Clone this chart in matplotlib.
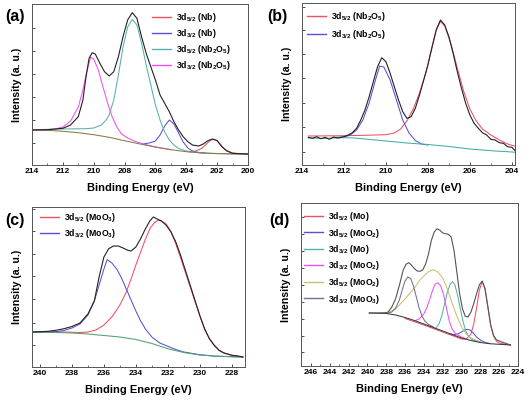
import matplotlib
matplotlib.use('Agg')
import matplotlib.pyplot as plt
from matplotlib.ticker import MultipleLocator, NullFormatter

plt.rcParams['font.family'] = 'Liberation Sans'
plt.rcParams['font.weight'] = 'bold'
plt.rcParams['mathtext.fontset'] = 'custom'
plt.rcParams['mathtext.rm'] = 'Liberation Sans:bold'
plt.rcParams['mathtext.bf'] = 'Liberation Sans:bold'
plt.rcParams['mathtext.default'] = 'rm'

# ---------------- (a) Nb 3d ----------------
a_data_x = [214, 213, 212, 211.5, 211, 210.7, 210.5, 210.3, 210.1, 209.9, 209.6, 209.3, 209.0, 208.7,
            208.4, 208.1, 207.8, 207.5, 207.2, 206.9, 206.6, 206.3, 206.0, 205.7, 205.4, 205.1, 204.8,
            204.5, 204.2, 203.9, 203.6, 203.2, 202.9, 202.6, 202.3, 202.0, 201.7, 201.4, 201.0, 200.5, 200.0]
a_data_y = [35, 35.3, 36.7, 40, 48.3, 65, 88, 106.7, 112.3, 111, 101.7, 93.3, 89, 93.3,
            108.3, 128.3, 145, 152.3, 146.7, 128.3, 111.7, 98.3, 85, 70, 61.7, 53.3, 43.3,
            35, 28.3, 23.3, 20, 19, 21, 24.3, 26, 24.3, 18.3, 14.3, 11.7, 11.3, 11]
a_bg_x = [214, 213, 212, 211, 210, 209, 208, 207, 206, 205, 204, 203, 202, 201, 200]
a_bg_y = [35, 34.7, 33.7, 32.3, 30.3, 27.7, 24.3, 21, 18, 15.3, 13.3, 12, 11.3, 11, 11]
a_nb52_x = [203.8, 203.4, 203.0, 202.7, 202.4, 202.2, 202.0, 201.7, 201.4, 201.0, 200.5, 200.0]
a_nb52_y = [13, 14, 16.5, 21, 25, 25.7, 24.5, 19, 14.5, 12, 11.3, 11]
a_nb32_x = [206.8, 206.4, 206.0, 205.7, 205.4, 205.1, 204.8, 204.5, 204.2, 203.9, 203.6, 203.2, 202.8]
a_nb32_y = [21, 22, 24, 30, 39, 45, 41, 32, 23, 17, 14, 12.5, 12]
a_ox52_x = [214, 212, 210.5, 210, 209.5, 209.2, 209.0, 208.7, 208.4, 208.1, 207.8, 207.5, 207.2,
            206.9, 206.6, 206.3, 206.0, 205.7, 205.4, 205.1, 204.8, 204.5, 204, 203, 202, 200]
a_ox52_y = [35.3, 36, 36.3, 37, 40, 45, 50, 65, 90, 118, 138, 145.7, 140,
            122, 100, 80, 60, 45, 33, 25, 20, 16.5, 14, 12.2, 11.5, 11]
a_ox32_x = [214, 213, 212.5, 212, 211.5, 211, 210.7, 210.5, 210.2, 210.0, 209.7, 209.4, 209.1,
            208.8, 208.5, 208.2, 207.8, 207.3, 206.8, 206, 205]
a_ox32_y = [35, 35.3, 36, 38, 44, 58, 75, 90, 108, 106, 95, 78, 62,
            48, 38, 31, 27, 23.5, 21, 18, 15.3]

# ---------------- (b) Nb2O5 ----------------
b_data_x = [213.7, 213.5, 213.3, 213.1, 212.9, 212.7, 212.5, 212.3, 212.0, 211.8, 211.6, 211.4, 211.2,
            211.0, 210.8, 210.6, 210.4, 210.2, 210.0, 209.8, 209.6, 209.4, 209.2, 209.0, 208.8, 208.6,
            208.4, 208.2, 208.0, 207.8, 207.6, 207.4, 207.2, 207.0, 206.8, 206.6, 206.4, 206.2, 206.0,
            205.8, 205.6, 205.4, 205.2, 205.0, 204.8, 204.6, 204.4, 204.2, 204.0, 203.8]
b_data_y = [27.7, 26.7, 28.3, 26.3, 27.7, 25.7, 28, 27, 28.3, 30, 32.3, 36.7, 45,
            55, 68.3, 83.3, 98.3, 107.3, 103.3, 91.7, 78.3, 65, 53.3, 46.7, 48.3, 56.7,
            70, 85, 100, 118.3, 135, 145, 140, 128.3, 111.7, 93.3, 76.7, 61.7, 50,
            41.7, 36.7, 32.3, 30, 25.7, 25, 22.3, 21.7, 18.3, 17.7, 13.3]
b_ox52_x = [213.7, 212, 211, 210, 209.6, 209.3, 209.0, 208.7, 208.4, 208.1, 207.8, 207.6, 207.4,
            207.2, 206.9, 206.6, 206.3, 206.0, 205.7, 205.4, 205.0, 204.6, 204.2, 203.8]
b_ox52_y = [29, 29.3, 29.7, 30.3, 32, 36, 44, 56, 72, 92, 118, 136, 143.5,
            139, 121, 97, 74, 56, 44, 36, 30, 25, 21, 18.5]
b_ox32_x = [212.5, 212, 211.7, 211.4, 211.1, 210.8, 210.5, 210.3, 210.1, 209.8, 209.5, 209.2,
            208.9, 208.6, 208.3, 208.0]
b_ox32_y = [27.5, 28, 30, 35, 45, 62, 85, 99, 98, 85, 65, 45, 32, 24.5, 21, 20]
b_bg_x = [213.7, 213, 212.5, 212, 211.5, 211, 210, 209, 208, 207, 206, 205, 204, 203.8]
b_bg_y = [27, 26.5, 27, 27.3, 27, 26, 24, 22, 20.5, 18.5, 16, 14.3, 13, 12.7]

# ---------------- (c) MoO3 ----------------
c_data_x = [240.4, 239.5, 239.0, 238.5, 238.0, 237.5, 237.0, 236.6, 236.3, 236.0, 235.7, 235.4, 235.1,
            234.8, 234.5, 234.3, 234.0, 233.7, 233.4, 233.1, 232.9, 232.7, 232.4, 232.1, 231.8, 231.5,
            231.2, 230.9, 230.6, 230.3, 230.0, 229.7, 229.4, 229.1, 228.8, 228.5, 228.0, 227.5, 227.3]
c_data_y = [35, 35.7, 36.7, 38.3, 40.5, 44, 53, 66, 90, 110, 118.3, 121, 121,
            119, 116.7, 116, 120, 128.3, 138.3, 146.7, 150, 148.3, 146, 141.7, 135, 125,
            111.7, 96.7, 81.7, 66.7, 51.7, 38.3, 28.3, 21.7, 16.7, 14, 11.7, 10.7, 10]
c_52_x = [240.4, 239, 238, 237.5, 237, 236.5, 236.0, 235.5, 235.0, 234.6, 234.3, 234.0, 233.7,
          233.4, 233.1, 232.8, 232.6, 232.4, 232.1, 231.8, 231.5, 231.2, 230.9, 230.6, 230.3,
          230.0, 229.7, 229.4, 229.1, 228.8, 228.5, 228, 227.3]
c_52_y = [35, 35.2, 34.8, 34.5, 35, 37, 42, 50, 62, 75, 88, 102, 115,
          128, 139, 145, 146.7, 146, 143, 135, 123, 109, 94.5, 80, 65.5,
          51, 38, 28.5, 22, 17, 14.3, 11.8, 10]
c_32_x = [240.4, 239, 238.5, 238, 237.5, 237.0, 236.6, 236.3, 236.0, 235.8, 235.5, 235.2, 234.9,
          234.6, 234.3, 234.0, 233.7, 233.4, 233.0, 232.5, 232.0, 231.5, 231, 230, 229, 227.3]
c_32_y = [35, 35.3, 36.5, 39, 43, 52, 66, 82, 98, 107.3, 104, 98, 89,
          78, 67, 56, 46, 38, 30, 24, 20.7, 17.5, 15, 12.3, 10.8, 10]
c_bg_x = [240.4, 239, 238, 237, 236, 235, 234, 233, 232, 231, 230, 229, 228, 227.3]
c_bg_y = [35, 34.5, 34, 33, 31.5, 30, 27.5, 23.5, 18.3, 14.5, 12, 10.8, 10.3, 10]

# ---------------- (d) Mo / MoO2 / MoO3 ----------------
d_data_x = [239.8, 239, 238, 237.8, 237.4, 237.0, 236.6, 236.2, 235.9, 235.6, 235.3, 235.0, 234.7,
            234.4, 234.1, 233.8, 233.5, 233.2, 232.9, 232.6, 232.3, 232.0, 231.7, 231.4, 231.1,
            230.8, 230.5, 230.2, 229.9, 229.6, 229.3, 229.0, 228.7, 228.4, 228.1, 227.8, 227.5,
            227.2, 226.9, 226.6, 226.3, 226.0, 225.5, 225.0, 224.8]
d_data_y = [53, 53, 53.3, 54, 59, 67.3, 80.7, 95.7, 101.7, 103.3, 100.7, 97.3, 95,
            94.7, 96.3, 102.3, 112.3, 125.7, 134, 137.3, 135.7, 133, 132.3, 131.7, 129,
            115.7, 94, 72.3, 57.3, 49.7, 49, 54, 62.3, 72.3, 81.3, 85, 77.3,
            59, 40.7, 30.7, 26.3, 25, 23.3, 21.7, 21]
d_bg_x = [239.8, 238, 237, 236, 235, 234, 233, 232, 231, 230, 229, 228, 227, 226, 224.8]
d_bg_y = [53, 52.5, 51, 48.5, 45.5, 42, 38.5, 35, 31.5, 28, 25.5, 23.5, 22.3, 21.7, 21]
d_mo52_x = [236, 234, 232, 230, 229.5, 229.0, 228.7, 228.4, 228.1, 227.8, 227.5, 227.2, 226.9,
            226.6, 226.3, 226, 225.5, 224.8]
d_mo52_y = [47.5, 41, 34, 27, 27, 32, 42, 58, 76, 84.3, 77, 59, 41, 30, 25, 23, 22, 21]
d_mo2_52_x = [231.2, 230.8, 230.4, 230, 229.7, 229.4, 229.1, 228.8, 228.4, 228, 227.5, 227]
d_mo2_52_y = [32, 31.5, 32, 34, 36, 36.7, 36, 33.5, 29, 26, 23.5, 22.5]
d_mo32_x = [232.8, 232.4, 232.1, 231.8, 231.5, 231.2, 230.95, 230.7, 230.4, 230.1, 229.8, 229.5,
            229.2, 228.8, 228]
d_mo32_y = [37, 42, 50, 62, 74, 82, 84.3, 81, 70, 56, 43, 34, 29, 26, 24]
d_mo2_32_x = [235, 234.5, 234, 233.7, 233.4, 233.1, 232.8, 232.5, 232.2, 231.9, 231.6, 231.3,
              231.0, 230.6, 230, 229.5]
d_mo2_32_y = [45, 47, 52, 58, 66, 75, 82, 83.3, 80, 71, 58, 45, 37, 32, 29, 27]
d_mo2_52b_x = [238, 237, 236, 235, 234.5, 234, 233.5, 233, 232.5, 232, 231.5, 231, 230.5, 230,
               229.5, 229, 228.5, 228]
d_mo2_52b_y = [52.5, 57, 67, 78, 85, 90, 94.5, 96.3, 94, 88, 77, 63, 50, 39, 32, 28, 26, 24]
d_mo3_32_x = [237.8, 237.4, 237.0, 236.6, 236.3, 236.0, 235.7, 235.4, 235.1, 234.8, 234.5, 234.2,
              233.9, 233.5, 233.0]
d_mo3_32_y = [53, 54, 58, 66, 76, 85, 89, 87.5, 80, 69, 58, 50, 45, 41.5, 39]

RED = '#ee5060'
BLUE = '#5a50d8'
TEAL = '#58b0a8'
MAG = '#f050f0'
OLIVE = '#c8c070'
GRAYP = '#707090'

W, H = 529, 404
fig = plt.figure(figsize=(W / 100, H / 100), dpi=100)


def make_axes(l, t, r, b, xlim, yticks):
    ax = fig.add_axes([l / W, 1 - b / H, (r - l) / W, (b - t) / H])
    ax.set_xlim(*xlim)
    ax.set_ylim(0, b - t)
    ax.xaxis.set_major_locator(MultipleLocator(2))
    ax.xaxis.set_minor_locator(MultipleLocator(1))
    ax.set_yticks(yticks)
    ax.yaxis.set_major_formatter(NullFormatter())
    ax.tick_params(direction='in', length=2.5, width=0.6, labelsize=6, pad=2,
                   color='#333333', labelcolor='black')
    ax.tick_params(which='minor', direction='in', length=1.5, width=0.5, color='#333333')
    for s in ax.spines.values():
        s.set_linewidth(0.7)
        s.set_color('#555555')
    ax.set_xlabel('Binding Energy (eV)', fontsize=8, fontweight='bold', labelpad=6)
    ax.set_ylabel('Intensity (a. u.)', fontsize=7.6, fontweight='bold', labelpad=5)
    return ax


def legend(ax, x, y, spacing):
    leg = ax.legend(loc='upper left', bbox_to_anchor=(x / W, 1 - y / H),
                    bbox_transform=fig.transFigure, frameon=False, fontsize=6.3,
                    handlelength=2.2, handletextpad=0.5, labelspacing=spacing,
                    borderpad=0, borderaxespad=0)
    for h in leg.get_lines():
        h.set_linewidth(1.0)


lw = 0.75

# (a)
ax = make_axes(32, 4, 248, 165, (214, 200), [22, 45, 68, 91, 114, 137])
ax.plot(a_nb52_x, a_nb52_y, color=RED, lw=lw, label=r'3d$_{5/2}$ (Nb)')
ax.plot(a_nb32_x, a_nb32_y, color=BLUE, lw=lw, label=r'3d$_{3/2}$ (Nb)')
ax.plot(a_ox52_x, a_ox52_y, color=TEAL, lw=lw, label=r'3d$_{5/2}$ (Nb$_2$O$_5$)')
ax.plot(a_ox32_x, a_ox32_y, color=MAG, lw=lw, label=r'3d$_{3/2}$ (Nb$_2$O$_5$)')
ax.plot(a_bg_x, a_bg_y, color='#8a7a48', lw=lw)
ax.plot(a_data_x, a_data_y, color='#222222', lw=0.8)
legend(ax, 152, 11, 0.35)

# (b)
ax = make_axes(302, 3, 515, 165, (214, 203.85), [13, 38, 62, 87, 111, 135, 158])
ax.plot(b_ox52_x, b_ox52_y, color=RED, lw=lw, label=r'3d$_{5/2}$ (Nb$_2$O$_5$)')
ax.plot(b_ox32_x, b_ox32_y, color=BLUE, lw=lw, label=r'3d$_{3/2}$ (Nb$_2$O$_5$)')
ax.plot(b_bg_x, b_bg_y, color='#40b0a0', lw=lw)
ax.plot(b_data_x, b_data_y, color='#222222', lw=0.8)
legend(ax, 307, 10, 0.6)

# (c)
ax = make_axes(32, 207, 245, 367, (240.5, 227.17), [22, 44, 68, 91, 113, 136, 158])
ax.plot(c_52_x, c_52_y, color=RED, lw=lw, label=r'3d$_{5/2}$ (MoO$_3$)')
ax.plot(c_32_x, c_32_y, color=BLUE, lw=lw, label=r'3d$_{3/2}$ (MoO$_3$)')
ax.plot(c_bg_x, c_bg_y, color='#50a070', lw=lw)
ax.plot(c_data_x, c_data_y, color='#222222', lw=0.8)
legend(ax, 40, 211, 0.3)

# (d)
ax = make_axes(301, 203, 518, 366, (247.05, 224), [14, 30, 47, 64, 81, 98, 115, 132, 149])
ax.plot(d_mo52_x, d_mo52_y, color=RED, lw=lw, label=r'3d$_{5/2}$ (Mo)')
ax.plot(d_mo2_52_x, d_mo2_52_y, color=BLUE, lw=lw, label=r'3d$_{5/2}$ (MoO$_2$)')
ax.plot(d_mo32_x, d_mo32_y, color=TEAL, lw=lw, label=r'3d$_{3/2}$ (Mo)')
ax.plot(d_mo2_32_x, d_mo2_32_y, color=MAG, lw=lw, label=r'3d$_{3/2}$ (MoO$_2$)')
ax.plot(d_mo2_52b_x, d_mo2_52b_y, color=OLIVE, lw=lw, label=r'3d$_{5/2}$ (MoO$_2$)')
ax.plot(d_mo3_32_x, d_mo3_32_y, color=GRAYP, lw=lw, label=r'3d$_{3/2}$ (MoO$_3$)')
ax.plot(d_bg_x, d_bg_y, color='#3a3a3a', lw=lw)
ax.plot(d_data_x, d_data_y, color='#555555', lw=0.8)
legend(ax, 304, 210, 0.4)

# panel letters
for lab, x, y in [('(a)', 5, 16), ('(b)', 267, 16), ('(c)', 5, 220), ('(d)', 269, 220)]:
    fig.text(x / W, 1 - y / H, lab, fontsize=11.5, fontweight='bold', va='center', ha='left')

fig.savefig('out.png', dpi=100)
